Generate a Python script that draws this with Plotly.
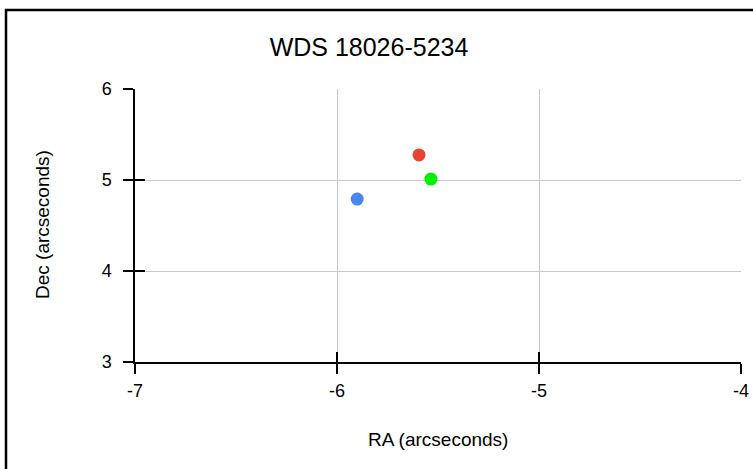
import plotly.graph_objects as go

title = "WDS 18026-5234"
x_title = "RA (arcseconds)"
y_title = "Dec (arcseconds)"
ra_values = [-5.90, -5.594, -5.535]
dec_values = [4.79, 5.275, 5.01]
colors = ["#4a86f0", "#ea4335", "#00f000"]
x_ticks = [-7, -6, -5, -4]
x_tick_labels = ["-7", "-6", "-5", "-4"]
y_ticks = [3, 4, 5, 6]
y_tick_labels = ["3", "4", "5", "6"]

W, H = 753, 469
# plot area in page pixels: x 135..741, y 89..362
L, R, T, B = 135, W - 741, 89, H - 362
pw, ph = W - L - R, H - T - B

def px_x(p):  # page pixel -> paper
    return (p - L) / pw

def px_y(p):
    return (H - B - p) / ph

fig = go.Figure()
for x, y, c in zip(ra_values, dec_values, colors):
    fig.add_trace(go.Scatter(x=[x], y=[y], mode="markers",
                             marker=dict(size=13, color=c, line=dict(width=0)),
                             showlegend=False, hoverinfo="skip"))
fig.add_trace(go.Scatter(x=[None], y=[None], xaxis="x2", yaxis="y2", showlegend=False))

font = dict(family="Arial, Liberation Sans, sans-serif", color="#000")
common = dict(tickcolor="#000", tickwidth=1.5, ticklen=10, zeroline=False, automargin=False)
fig.update_layout(
    width=W, height=H,
    margin=dict(l=L, r=R, t=T, b=B, pad=0),
    paper_bgcolor="white", plot_bgcolor="white",
    font=dict(**font, size=18),
    title=dict(text=title, x=369 / W, xanchor="center",
               y=1 - 47 / H, yanchor="middle",
               font=dict(**font, size=25)),
    xaxis=dict(range=[-7, -4], tickvals=x_ticks, ticktext=x_tick_labels, ticks="outside",
               showline=True, linecolor="#000", linewidth=1.5,
               showgrid=True, gridcolor="#c8c8c8", gridwidth=1.2,
               tickfont=dict(size=18), ticklabelstandoff=2, **common),
    yaxis=dict(range=[3, 6], tickvals=y_ticks, ticktext=y_tick_labels, ticks="outside",
               showline=True, linecolor="#000", linewidth=1.5,
               showgrid=True, gridcolor="#c8c8c8", gridwidth=1.2,
               tickfont=dict(size=18), ticklabelstandoff=8, **common),
    xaxis2=dict(range=[-7, -4], tickvals=x_ticks, ticks="inside", showticklabels=False,
                showgrid=False, overlaying="x", anchor="y2", **common),
    yaxis2=dict(range=[3, 6], tickvals=y_ticks, ticks="inside", showticklabels=False,
                showgrid=False, overlaying="y", anchor="x2", **common),
    annotations=[
        dict(text=x_title, xref="paper", yref="paper", x=px_x(438), y=px_y(440),
             xanchor="center", yanchor="middle", showarrow=False, font=dict(size=19)),
        dict(text=y_title, xref="paper", yref="paper", x=px_x(42), y=px_y(225), textangle=-90,
             xanchor="center", yanchor="middle", showarrow=False, font=dict(size=19)),
    ],
    shapes=[dict(type="rect", xref="paper", yref="paper",
                 x0=px_x(6), x1=px_x(W + 40), y0=px_y(H + 40), y1=px_y(10),
                 line=dict(color="#000", width=2.5), fillcolor="rgba(0,0,0,0)", layer="below")],
)
fig.write_html("out.html", config={"displayModeBar": False},
               post_script="document.body.style.margin='0';document.body.style.overflow='hidden';")
